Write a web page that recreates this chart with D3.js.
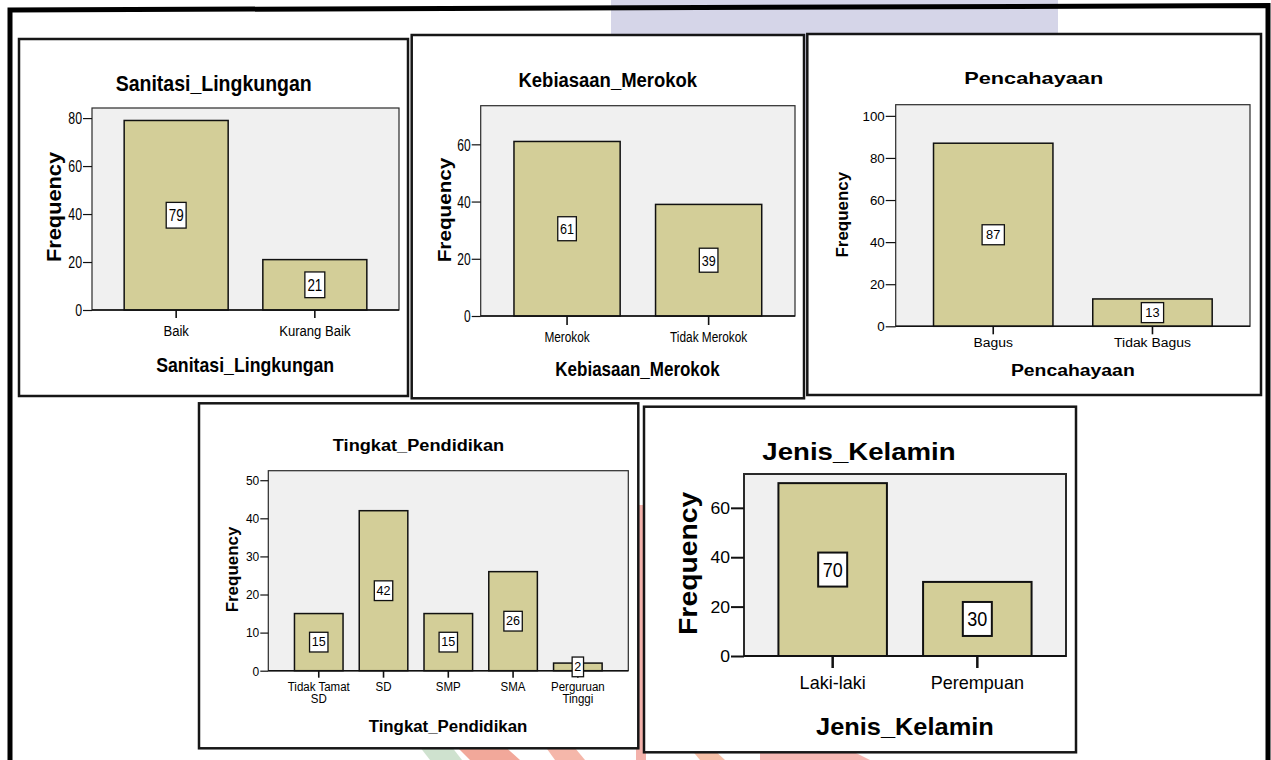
<!DOCTYPE html>
<html>
<head>
<meta charset="utf-8">
<script src="https://cdn.jsdelivr.net/npm/d3@7"></script>
<style>
  html, body { margin: 0; padding: 0; background: #fff; overflow: hidden; }
  svg { display: block; }
</style>
</head>
<body>
<script>
// ---------- data ----------
const sanitasiCategories = ["Baik", "Kurang Baik"];
const sanitasiCounts = [79, 21];
const sanitasiTicks = [0, 20, 40, 60, 80];

const merokokCategories = ["Merokok", "Tidak Merokok"];
const merokokCounts = [61, 39];
const merokokTicks = [0, 20, 40, 60];

const cahayaCategories = ["Bagus", "Tidak Bagus"];
const cahayaCounts = [87, 13];
const cahayaTicks = [0, 20, 40, 60, 80, 100];

const pendidikanCategories = ["Tidak Tamat SD", "SD", "SMP", "SMA", "Perguruan Tinggi"];
const pendidikanLabelLines = [["Tidak Tamat", "SD"], ["SD"], ["SMP"], ["SMA"], ["Perguruan", "Tinggi"]];
const pendidikanCounts = [15, 42, 15, 26, 2];
const pendidikanTicks = [0, 10, 20, 30, 40, 50];

const kelaminCategories = ["Laki-laki", "Perempuan"];
const kelaminCounts = [70, 30];
const kelaminTicks = [0, 20, 40, 60];

// ---------- layout / style ----------
const W = 1271, H = 760;
const FONT = "'Liberation Sans', Arial, Helvetica, sans-serif";
const BAR_FILL = "#d3ce98";
const PLOT_BG = "#f0f0f0";

const panels = [
  {
    name: "Sanitasi_Lingkungan", cats: sanitasiCategories, vals: sanitasiCounts, ticks: sanitasiTicks,
    box: [19, 39, 408, 396], plot: [92, 108, 399, 310], yMax: 84.2, padIn: 0.25, padOut: 0.232, lw: 1.5,
    title: { x: 213.7, y: 90.7, size: 22, sx: 0.887 },
    xTitle: { x: 245.2, y: 371.7, size: 20, sx: 0.885 },
    yTitle: { x: 61, y: 207, size: 20, sx: 1.09 },
    yTick: { len: 9, gap: 1, size: 16, sx: 0.77 },
    xTick: { len: 8, y: 336, size: 15.4, sx: 0.85, lh: 0 },
    value: { size: 17, sx: 0.79, pad: 2.5, h: 25.7 }
  },
  {
    name: "Kebiasaan_Merokok", cats: merokokCategories, vals: merokokCounts, ticks: merokokTicks,
    box: [411.7, 35, 804, 398.3], plot: [480.7, 105.7, 795, 316], yMax: 73.5, padIn: 0.25, padOut: 0.235, lw: 1.5,
    title: { x: 607.8, y: 86.7, size: 21, sx: 0.88 },
    xTitle: { x: 637.5, y: 376, size: 20, sx: 0.85 },
    yTitle: { x: 451.2, y: 210, size: 18, sx: 1.15 },
    yTick: { len: 9, gap: 1, size: 16, sx: 0.75 },
    xTick: { len: 9, y: 341.7, size: 15, sx: 0.79, lh: 0 },
    value: { size: 15, sx: 0.84, pad: 2.3, h: 24 }
  },
  {
    name: "Pencahayaan", cats: cahayaCategories, vals: cahayaCounts, ticks: cahayaTicks,
    box: [807.3, 34, 1261, 395], plot: [895.7, 104.7, 1250, 326.3], yMax: 105.3, padIn: 0.25, padOut: 0.2375, lw: 1.5,
    title: { x: 1033.7, y: 84, size: 17, sx: 1.28 },
    xTitle: { x: 1072.8, y: 375.7, size: 17, sx: 1.14 },
    yTitle: { x: 848.2, y: 214.7, size: 16, sx: 1.06 },
    yTick: { len: 10, gap: 1, size: 12, sx: 1.11 },
    xTick: { len: 8, y: 346.7, size: 12, sx: 1.16, lh: 0 },
    value: { size: 12, sx: 1.07, pad: 4, h: 20 }
  },
  {
    name: "Tingkat_Pendidikan", cats: pendidikanCategories, vals: pendidikanCounts, ticks: pendidikanTicks,
    lines: pendidikanLabelLines,
    box: [199, 403.3, 638.3, 748.3], plot: [268.3, 470.7, 628.3, 670.7], yMax: 52.5, padIn: 0.25, padOut: 0.404, lw: 1.5,
    title: { x: 418.5, y: 450.7, size: 17, sx: 1.07 },
    xTitle: { x: 448, y: 731.7, size: 17, sx: 0.99 },
    yTitle: { x: 238.2, y: 569.5, size: 16, sx: 1.06 },
    yTick: { len: 8, gap: 1, size: 12, sx: 1.0 },
    xTick: { len: 7, y: 691, size: 12, sx: 0.96, lh: 11.7 },
    value: { size: 12, sx: 1.05, pad: 2.2, h: 19.7 }
  },
  {
    name: "Jenis_Kelamin", cats: kelaminCategories, vals: kelaminCounts, ticks: kelaminTicks,
    box: [644, 406.7, 1076, 752.3], plot: [744, 474, 1066, 656], yMax: 73.7, padIn: 0.25, padOut: 0.238, lw: 2,
    title: { x: 859, y: 460, size: 24, sx: 1.15 },
    xTitle: { x: 904.9, y: 735, size: 23.3, sx: 1.09 },
    yTitle: { x: 696.9, y: 563.3, size: 26, sx: 1.09 },
    yTick: { len: 13, gap: 1, size: 16, sx: 1.1 },
    xTick: { len: 12, y: 689.3, size: 19, sx: 0.95, lh: 0 },
    value: { size: 20, sx: 0.9, pad: 4.5, h: 34 }
  }
];

const svg = d3.select("body").append("svg")
  .attr("width", W).attr("height", H)
  .attr("viewBox", `0 0 ${W} ${H}`);

// ---------- background decoration ----------
const deco = svg.append("g");
deco.append("rect").attr("x", 611).attr("y", 0).attr("width", 447).attr("height", 140).attr("fill", "#d5d5e8");
deco.append("rect").attr("x", 636).attr("y", 505).attr("width", 10).attr("height", 255).attr("fill", "#f3b2ab");
const stripes = [
  { pts: [[430, 760], [462, 760], [448, 742], [416, 742]], c: "#cfe2cf" },
  { pts: [[470, 760], [520, 760], [500, 742], [452, 742]], c: "#f2a89a" },
  { pts: [[555, 760], [585, 760], [570, 742], [542, 742]], c: "#f5b7aa" },
  { pts: [[700, 760], [725, 760], [712, 748], [690, 748]], c: "#f6c0a8" },
  { pts: [[760, 760], [870, 760], [850, 750], [760, 750]], c: "#f6b8b4" }
];
deco.selectAll("polygon").data(stripes).join("polygon")
  .attr("points", d => d.pts.map(p => p.join(",")).join(" "))
  .attr("fill", d => d.c);

// outer frame
const frame = svg.append("g").attr("fill", "none").attr("stroke", "#000").attr("stroke-width", 5);
frame.append("path").attr("d", "M10,760 L10,10 L1268,5.5 L1268,760");

// ---------- helpers ----------
function label(parent, x, y, str, o) {
  return parent.append("text")
    .attr("transform", `translate(${x},${y})${o.rotate ? ` rotate(${o.rotate})` : ""} scale(${o.sx},1)`)
    .attr("text-anchor", o.anchor || "middle")
    .attr("font-family", FONT)
    .attr("font-size", o.size)
    .attr("font-weight", o.weight || "normal")
    .attr("fill", "#000")
    .text(str);
}

// ---------- panels ----------
panels.forEach(p => {
  const g = svg.append("g");
  const [bx0, by0, bx1, by1] = p.box;
  const [px0, py0, px1, py1] = p.plot;

  g.append("rect")
    .attr("x", bx0).attr("y", by0).attr("width", bx1 - bx0).attr("height", by1 - by0)
    .attr("fill", "#fff").attr("stroke", "#161616").attr("stroke-width", 2.5);

  const x = d3.scaleBand().domain(p.cats).range([px0, px1])
    .paddingInner(p.padIn).paddingOuter(p.padOut);
  const y = d3.scaleLinear().domain([0, p.yMax]).range([py1, py0]);

  // plot area
  g.append("rect")
    .attr("x", px0).attr("y", py0).attr("width", px1 - px0).attr("height", py1 - py0)
    .attr("fill", PLOT_BG).attr("stroke", "#2a2a2a").attr("stroke-width", p.lw === 2 ? 2 : 1.2);

  // bars
  const data = p.cats.map((c, i) => ({ cat: c, v: p.vals[i] }));
  g.append("g").selectAll("rect").data(data).join("rect")
    .attr("x", d => x(d.cat))
    .attr("y", d => y(d.v))
    .attr("width", x.bandwidth())
    .attr("height", d => y(0) - y(d.v))
    .attr("fill", BAR_FILL)
    .attr("stroke", "#111")
    .attr("stroke-width", p.lw);

  // zero baseline
  g.append("line").attr("x1", px0).attr("x2", px1).attr("y1", y(0)).attr("y2", y(0))
    .attr("stroke", "#111").attr("stroke-width", p.lw);

  // y axis
  const ya = g.append("g").attr("transform", `translate(${px0},0)`)
    .call(d3.axisLeft(y).tickValues(p.ticks).tickSize(p.yTick.len).tickSizeOuter(0).tickFormat(d3.format("d")));
  ya.select(".domain").remove();
  ya.selectAll(".tick line").attr("stroke", "#111").attr("stroke-width", p.lw === 2 ? 2 : 1.2);
  ya.selectAll(".tick text")
    .attr("x", null).attr("dy", null)
    .attr("transform", `translate(${-(p.yTick.len + p.yTick.gap)},${0.36 * p.yTick.size}) scale(${p.yTick.sx},1)`)
    .attr("font-family", FONT).attr("font-size", p.yTick.size).attr("fill", "#000");

  // x axis ticks
  const xa = g.append("g").attr("transform", `translate(0,${py1})`)
    .call(d3.axisBottom(x).tickSize(p.xTick.len).tickSizeOuter(0).tickFormat(""));
  xa.select(".domain").remove();
  xa.selectAll(".tick line").attr("stroke", "#111").attr("stroke-width", p.lw === 2 ? 2.5 : 1.6);

  // x category labels
  p.cats.forEach((c, i) => {
    const lines = p.lines ? p.lines[i] : [c];
    lines.forEach((ln, k) => {
      label(g, x(c) + x.bandwidth() / 2, p.xTick.y + k * p.xTick.lh, ln,
        { size: p.xTick.size, sx: p.xTick.sx });
    });
  });

  // value labels in boxes
  data.forEach(d => {
    const cx = x(d.cat) + x.bandwidth() / 2;
    const cy = (y(0) + y(d.v)) / 2;
    const boxG = g.append("g");
    const r = boxG.append("rect");
    const t = label(boxG, cx, cy + 0.36 * p.value.size, String(d.v), { size: p.value.size, sx: p.value.sx });
    const tw = t.node().getComputedTextLength() * p.value.sx;
    const bw = tw + 2 * p.value.pad;
    r.attr("x", cx - bw / 2).attr("y", cy - p.value.h / 2)
      .attr("width", bw).attr("height", p.value.h)
      .attr("fill", "#fff").attr("stroke", "#111").attr("stroke-width", p.lw === 2 ? 2 : 1.3);
  });

  // titles
  label(g, p.title.x, p.title.y, p.name, { size: p.title.size, sx: p.title.sx, weight: "bold" });
  label(g, p.xTitle.x, p.xTitle.y, p.name, { size: p.xTitle.size, sx: p.xTitle.sx, weight: "bold" });
  label(g, p.yTitle.x, p.yTitle.y, "Frequency", { size: p.yTitle.size, sx: p.yTitle.sx, weight: "bold", rotate: -90 });
});
</script>
</body>
</html>
